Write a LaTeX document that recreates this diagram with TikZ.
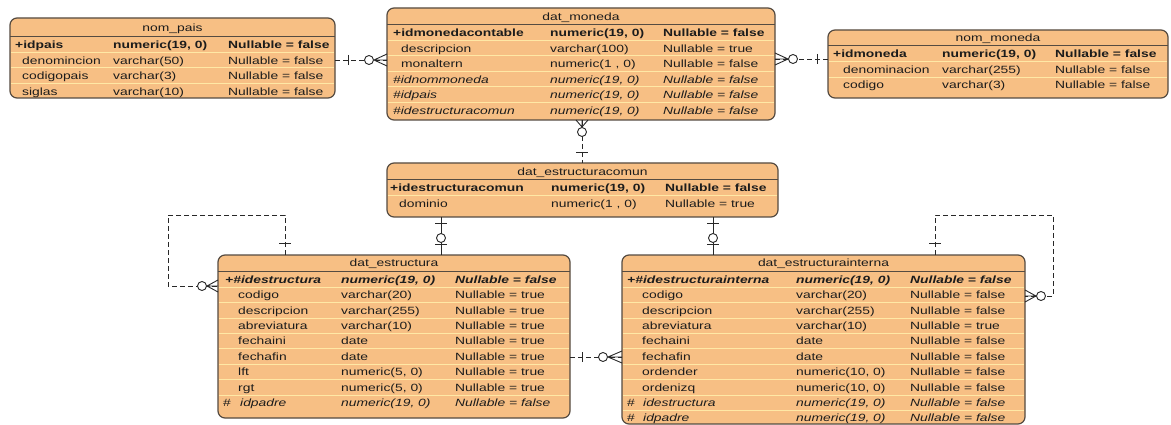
\documentclass[tikz,border=0pt]{standalone}
\usepackage{fontspec}
\setmainfont[FakeStretch=1.32]{Liberation Sans}
\newcounter{cellno}
\newcommand\rowfont{\fontsize{10.5}{12}\selectfont}
\definecolor{tfill}{RGB}{247,191,132}
\definecolor{tborder}{RGB}{85,75,65}
\definecolor{rsep}{RGB}{255,232,165}
\definecolor{txt}{RGB}{28,28,28}
\definecolor{linec}{RGB}{40,40,40}
\tikzset{
  tbl/.style={draw=tborder, fill=tfill, line width=1.2pt, rounded corners=7pt, anchor=north west, outer sep=0pt, inner sep=0pt},
  cell/.style={anchor=west, inner sep=0pt, text=txt, font=\rowfont, text height=7.6pt, text depth=0pt},
  ttl/.style={cell, anchor=center},
  pk/.style={font=\rowfont\bfseries},
  pkfk/.style={font=\rowfont\bfseries\itshape},
  fkr/.style={font=\rowfont\itshape},
  plain/.style={},
  rowsep/.style={draw=rsep, line width=1pt},
  titlesep/.style={draw=tborder, line width=1pt},
  conn/.style={draw=linec, line width=0.9pt},
  fk/.style={conn, dash pattern=on 5pt off 3pt},
  deco/.style={draw=linec, line width=0.9pt, solid}
}
\newcommand\erow[8]{%
  \stepcounter{cellno}%
  \node[cell,#1] (r\arabic{cellno}a) at (#3,#2) {#4};
  \node[cell,#1] (r\arabic{cellno}b) at (#5,#2) {#6};
  \node[cell,#1] (r\arabic{cellno}c) at (#7,#2) {#8};}
\newcommand\hashcell[2]{\stepcounter{cellno}\node[cell] (h\arabic{cellno}) at (#1,#2) {\#};}
\newcommand\vtick[2]{\draw[deco] (#1,#2-5) -- (#1,#2+5);}
\newcommand\htick[2]{\draw[deco] (#1-6,#2) -- (#1+6,#2);}
\newcommand\zcirc[2]{\draw[deco,fill=white] (#1,#2) circle[radius=4.5];}
\newcommand\footH[3]{\draw[deco] (#1,#3) -- (#2,#3-6) (#1,#3) -- (#2,#3) (#1,#3) -- (#2,#3+6);}
\newcommand\footV[3]{\draw[deco] (#3,#1) -- (#3-6,#2) (#3,#1) -- (#3,#2) (#3,#1) -- (#3+6,#2);}
\begin{document}
\begin{tikzpicture}[x=1pt,y=-1pt]
\useasboundingbox (0,0) rectangle (1171,425);
\fill[white] (0,0) rectangle (1171,425);

% ---------- nom_pais ----------
\node[tbl, minimum width=325pt, minimum height=80pt] (pais) at (10,18) {};
\node[ttl] (paist) at (172.5,27.5) {nom\_pais};
\draw[titlesep] (10,37) -- (335,37);
\foreach \y in {52.5,68,83.5} \draw[rowsep] (11,\y) -- (334,\y);
\erow{pk}{44.75}{15}{+idpais}{113}{numeric(19, 0)}{228}{Nullable = false}
\erow{plain}{60.25}{22}{denomincion}{113}{varchar(50)}{228}{Nullable = false}
\erow{plain}{75.75}{22}{codigopais}{113}{varchar(3)}{228}{Nullable = false}
\erow{plain}{91.25}{22}{siglas}{113}{varchar(10)}{228}{Nullable = false}

% ---------- dat_moneda ----------
\node[tbl, minimum width=388pt, minimum height=112pt] (moneda) at (387,8) {};
\node[ttl] (monedat) at (581,16.5) {dat\_moneda};
\draw[titlesep] (387,25) -- (775,25);
\foreach \y in {40.5,56,71.5,87,102.5} \draw[rowsep] (388,\y) -- (774,\y);
\erow{pk}{32.75}{393}{+idmonedacontable}{550}{numeric(19, 0)}{663}{Nullable = false}
\erow{plain}{48.25}{401}{descripcion}{550}{varchar(100)}{663}{Nullable = true}
\erow{plain}{63.75}{401}{monaltern}{550}{numeric(1 , 0)}{663}{Nullable = false}
\erow{fkr}{79.25}{393}{\#idnommoneda}{550}{numeric(19, 0)}{663}{Nullable = false}
\erow{fkr}{94.75}{393}{\#idpais}{550}{numeric(19, 0)}{663}{Nullable = false}
\erow{fkr}{110.25}{393}{\#idestructuracomun}{550}{numeric(19, 0)}{663}{Nullable = false}

% ---------- nom_moneda ----------
\node[tbl, minimum width=340pt, minimum height=68pt] (nmon) at (828,30) {};
\node[ttl] (nmont) at (998,38) {nom\_moneda};
\draw[titlesep] (828,46) -- (1168,46);
\foreach \y in {61.75,77.25} \draw[rowsep] (829,\y) -- (1167,\y);
\erow{pk}{54}{833}{+idmoneda}{942}{numeric(19, 0)}{1055}{Nullable = false}
\erow{plain}{69.5}{843}{denominacion}{942}{varchar(255)}{1055}{Nullable = false}
\erow{plain}{85}{843}{codigo}{942}{varchar(3)}{1055}{Nullable = false}

% ---------- dat_estructuracomun ----------
\node[tbl, minimum width=391pt, minimum height=54pt] (comun) at (387,163) {};
\node[ttl] (comunt) at (582.5,171.5) {dat\_estructuracomun};
\draw[titlesep] (387,180) -- (778,180);
\draw[rowsep] (388,195.75) -- (777,195.75);
\erow{pk}{188}{390}{+idestructuracomun}{551}{numeric(19, 0)}{665}{Nullable = false}
\erow{plain}{203.5}{399}{dominio}{551}{numeric(1 , 0)}{665}{Nullable = true}

% ---------- dat_estructura ----------
\node[tbl, minimum width=352pt, minimum height=163pt] (estr) at (218,255) {};
\node[ttl] (estrt) at (394,263) {dat\_estructura};
\draw[titlesep] (218,271) -- (570,271);
\foreach \y in {287.2,302.6,318,333.4,348.8,364.2,379.6,395} \draw[rowsep] (219,\y) -- (569,\y);
\erow{pkfk}{279.5}{225}{+\#idestructura}{341}{numeric(19, 0)}{455}{Nullable = false}
\erow{plain}{294.9}{238}{codigo}{341}{varchar(20)}{455}{Nullable = true}
\erow{plain}{310.3}{238}{descripcion}{341}{varchar(255)}{455}{Nullable = true}
\erow{plain}{325.7}{238}{abreviatura}{341}{varchar(10)}{455}{Nullable = true}
\erow{plain}{341.1}{238}{fechaini}{341}{date}{455}{Nullable = true}
\erow{plain}{356.5}{238}{fechafin}{341}{date}{455}{Nullable = true}
\erow{plain}{371.9}{238}{lft}{341}{numeric(5, 0)}{455}{Nullable = true}
\erow{plain}{387.3}{238}{rgt}{341}{numeric(5, 0)}{455}{Nullable = true}
\hashcell{223}{402.7}
\erow{fkr}{402.7}{240}{idpadre}{341}{numeric(19, 0)}{455}{Nullable = false}

% ---------- dat_estructurainterna ----------
\node[tbl, minimum width=403pt, minimum height=169pt] (intr) at (622,255) {};
\node[ttl] (intrt) at (823.5,263) {dat\_estructurainterna};
\draw[titlesep] (622,271) -- (1025,271);
\foreach \y in {287.2,302.6,318,333.4,348.8,364.2,379.6,395,410.4} \draw[rowsep] (623,\y) -- (1024,\y);
\erow{pkfk}{279.5}{627}{+\#idestructurainterna}{796}{numeric(19, 0)}{910}{Nullable = false}
\erow{plain}{294.9}{642}{codigo}{796}{varchar(20)}{910}{Nullable = false}
\erow{plain}{310.3}{642}{descripcion}{796}{varchar(255)}{910}{Nullable = false}
\erow{plain}{325.7}{642}{abreviatura}{796}{varchar(10)}{910}{Nullable = true}
\erow{plain}{341.1}{642}{fechaini}{796}{date}{910}{Nullable = false}
\erow{plain}{356.5}{642}{fechafin}{796}{date}{910}{Nullable = false}
\erow{plain}{371.9}{642}{ordender}{796}{numeric(10, 0)}{910}{Nullable = false}
\erow{plain}{387.3}{642}{ordenizq}{796}{numeric(10, 0)}{910}{Nullable = false}
\hashcell{627}{402.7}
\erow{fkr}{402.7}{643}{idestructura}{796}{numeric(19, 0)}{910}{Nullable = false}
\hashcell{627}{418.1}
\erow{fkr}{418.1}{643}{idpadre}{796}{numeric(19, 0)}{910}{Nullable = false}

% ---------- connectors ----------
\coordinate (c1) at (0,60);
\draw[fk] (pais.east |- c1) -- (moneda.west |- c1);
\vtick{348}{60} \zcirc{369}{60} \footH{374}{387}{60}

\coordinate (c2) at (0,59);
\draw[fk] (moneda.east |- c2) -- (nmon.west |- c2);
\footH{788}{775}{59} \zcirc{793}{59} \vtick{817}{59}

\coordinate (c3) at (582,0);
\draw[fk] (moneda.south -| c3) -- (comun.north -| c3);
\footV{127}{120}{582} \zcirc{582}{132} \htick{582}{152}

\coordinate (c4) at (441,0);
\draw[conn] (comun.south -| c4) -- (estr.north -| c4);
\htick{441}{223} \zcirc{441}{238} \htick{441}{244.5}

\coordinate (c5) at (713,0);
\draw[conn] (comun.south -| c5) -- (intr.north -| c5);
\htick{713}{223} \zcirc{713}{238} \htick{713}{244.5}

\coordinate (c8) at (0,357);
\draw[fk] (estr.east |- c8) -- (intr.west |- c8);
\vtick{582}{357} \zcirc{603}{357} \footH{608}{622}{357}

\coordinate (k6a) at (285,0);
\coordinate (k6b) at (168,215);
\coordinate (k6c) at (0,286);
\draw[fk] (estr.north -| k6a) |- (k6b) |- (estr.west |- k6c);
\htick{285}{243} \zcirc{202}{286} \footH{207}{218}{286}

\coordinate (k7a) at (935,0);
\coordinate (k7b) at (1053,215);
\coordinate (k7c) at (0,296);
\draw[fk] (intr.north -| k7a) |- (k7b) |- (intr.east |- k7c);
\htick{935}{243} \footH{1036}{1025}{296} \zcirc{1041}{296}
\end{tikzpicture}
\end{document}
